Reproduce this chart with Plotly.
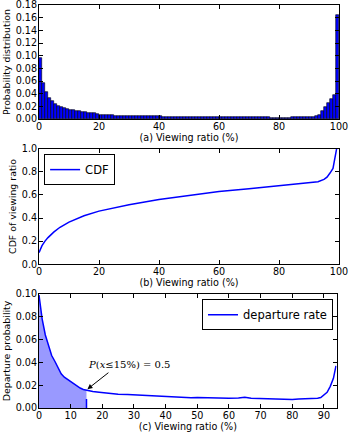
import plotly.graph_objects as go

# (a) histogram of viewing ratio, 1% bins
hist_edges = list(range(0, 100))
hist_prob = [
    0.097, 0.057, 0.043, 0.034, 0.028, 0.024, 0.021, 0.019, 0.017, 0.016,
    0.015, 0.014, 0.013, 0.012, 0.011, 0.0105, 0.010, 0.0095, 0.009, 0.0085,
    0.0065, 0.0063, 0.0061, 0.0059, 0.0057, 0.0055, 0.0054, 0.0053, 0.0052, 0.0051,
    0.0050, 0.0049, 0.0048, 0.0047, 0.0046, 0.0045, 0.0044, 0.0043, 0.0043, 0.0042,
    0.0041, 0.0040, 0.0040, 0.0039, 0.0038, 0.0038, 0.0037, 0.0036, 0.0036, 0.0035,
    0.0035, 0.0034, 0.0034, 0.0033, 0.0033, 0.0032, 0.0032, 0.0031, 0.0031, 0.0030,
    0.0030, 0.0030, 0.0029, 0.0029, 0.0028, 0.0028, 0.0028, 0.0027, 0.0027, 0.0027,
    0.0026, 0.0026, 0.0026, 0.0025, 0.0025, 0.0025, 0.0025, 0.0024, 0.0024, 0.0024,
    0.0024, 0.0024, 0.0024, 0.0024, 0.0025, 0.0025, 0.0026, 0.0027, 0.0028, 0.0030,
    0.0033, 0.0038, 0.0045, 0.006, 0.012, 0.019, 0.026, 0.031, 0.038, 0.164,
]

# (b) CDF of viewing ratio
cdf_x = [0, 1, 2, 3, 5, 7, 10, 15, 20, 30, 40, 50, 60, 70, 80, 90, 93, 95, 96, 97, 98, 99.2]
cdf_y = [0.10, 0.16, 0.20, 0.23, 0.28, 0.32, 0.365, 0.42, 0.46, 0.515, 0.56, 0.595,
         0.63, 0.655, 0.68, 0.705, 0.715, 0.735, 0.755, 0.79, 0.83, 1.0]

# (c) departure rate
dep_x = [0, 1, 2, 3, 4, 5, 6, 7, 8, 9, 10, 11, 12, 13, 14, 15, 17, 19, 22, 25, 28, 30,
         33, 36, 39, 42, 45, 48, 50, 53, 56, 60, 63, 65, 67, 70, 74, 78, 80, 82, 85,
         88, 89, 90, 91, 92, 93, 93.8]
dep_y = [0.099, 0.078, 0.064, 0.054, 0.046, 0.041, 0.035, 0.030, 0.027, 0.025, 0.023,
         0.021, 0.019, 0.0175, 0.0163, 0.0155, 0.0145, 0.0138, 0.0128, 0.012, 0.0118,
         0.0115, 0.011, 0.0103, 0.0098, 0.0095, 0.0093, 0.009, 0.0092, 0.0088, 0.0088,
         0.0085, 0.0087, 0.0094, 0.0085, 0.0082, 0.008, 0.0076, 0.0074, 0.0079, 0.008,
         0.0086, 0.0092, 0.0112, 0.0138, 0.019, 0.026, 0.037]
shade_end = 15

FONT = "DejaVu Sans"
BLUE = "#0000ff"

fig = go.Figure()

fig.add_trace(go.Bar(
    x=[e + 0.5 for e in hist_edges], y=hist_prob, width=1,
    marker=dict(color=BLUE, line=dict(color="black", width=0.6)),
    showlegend=False, xaxis="x", yaxis="y"))

fig.add_trace(go.Scatter(
    x=cdf_x, y=cdf_y, mode="lines", name="CDF",
    line=dict(color=BLUE, width=1.5), xaxis="x2", yaxis="y2", legend="legend"))

k = dep_x.index(shade_end)
fig.add_trace(go.Scatter(
    x=dep_x[:k + 1], y=dep_y[:k + 1], mode="lines", fill="tozeroy",
    fillcolor="rgba(0,0,255,0.4)", line=dict(width=0), showlegend=False,
    xaxis="x3", yaxis="y3"))
fig.add_trace(go.Scatter(
    x=[shade_end, shade_end], y=[0, dep_y[k]], mode="lines",
    line=dict(color=BLUE, width=1.5, dash="dash"), showlegend=False,
    xaxis="x3", yaxis="y3"))
fig.add_trace(go.Scatter(
    x=dep_x, y=dep_y, mode="lines", name="departure rate",
    line=dict(color=BLUE, width=1.5), xaxis="x3", yaxis="y3", legend="legend2"))

ax_style = dict(showline=True, linecolor="black", linewidth=1, mirror="allticks",
                ticks="inside", ticklen=4, tickcolor="black", showgrid=False,
                zeroline=False, automargin=False, ticklabeloverflow="allow",
                tickfont=dict(size=9.6, color="black"))
x_style = dict(ticklabelstandoff=-2, **ax_style)
y_style = dict(ticklabelstandoff=-1, **ax_style)
xt = dict(standoff=0, font=dict(size=9.6))
yt = dict(standoff=3, font=dict(size=9.4))

fig.update_layout(
    width=349, height=436,
    margin=dict(l=39, r=10, t=5, b=28),
    paper_bgcolor="white", plot_bgcolor="white",
    font=dict(family=FONT, size=10, color="black"),
    bargap=0,
    xaxis=dict(domain=[0, 1], anchor="y", range=[0, 100], dtick=20,
               title=dict(text="(a) Viewing ratio (%)", **xt), **x_style),
    yaxis=dict(domain=[0.717, 1], anchor="x", range=[0, 0.18 + 1e-9], dtick=0.02,
               tickformat=".2f", title=dict(text="Probability distribution", **yt),
               **y_style),
    xaxis2=dict(domain=[0, 1], anchor="y2", range=[0, 100], dtick=20,
                title=dict(text="(b) Viewing ratio (%)", **xt), **x_style),
    yaxis2=dict(domain=[0.357, 0.643], anchor="x2", range=[0, 1 + 1e-9], dtick=0.2,
                tickformat=".1f", title=dict(text="CDF of viewing ratio", **yt),
                **y_style),
    xaxis3=dict(domain=[0, 0.992], anchor="y3", range=[0, 94], dtick=10,
                title=dict(text="(c) Viewing ratio (%)", **xt), **x_style),
    yaxis3=dict(domain=[0, 0.283], anchor="x3", range=[0, 0.1 + 1e-9], dtick=0.02,
                tickformat=".2f", title=dict(text="Departure probability", **yt),
                **y_style),
    legend=dict(x=0.017, y=0.63, xanchor="left", yanchor="top", itemwidth=30,
                bordercolor="black", borderwidth=1, bgcolor="white",
                font=dict(size=11.5)),
    legend2=dict(x=0.98, y=0.27, xanchor="right", yanchor="top", itemwidth=30,
                 bordercolor="black", borderwidth=1, bgcolor="white",
                 font=dict(size=11.5)),
    annotations=[
        dict(x=shade_end + 0.3, y=dep_y[k] + 0.001, xref="x3", yref="y3",
             ax=22.4, ay=0.032, axref="x3", ayref="y3", text="",
             showarrow=True, arrowhead=2, arrowsize=1, arrowwidth=1,
             arrowcolor="black"),
        dict(x=28.5, y=0.038, xref="x3", yref="y3", showarrow=False,
             text="<i>P</i>(<i>x</i>≤15%) = 0.5",
             font=dict(family="DejaVu Serif", size=10)),
    ],
)

# page body has a default margin; drop it so the figure sits at the window corner
fig.write_html("out.html", config={"displayModeBar": False},
               post_script="document.body.style.margin='0';")
